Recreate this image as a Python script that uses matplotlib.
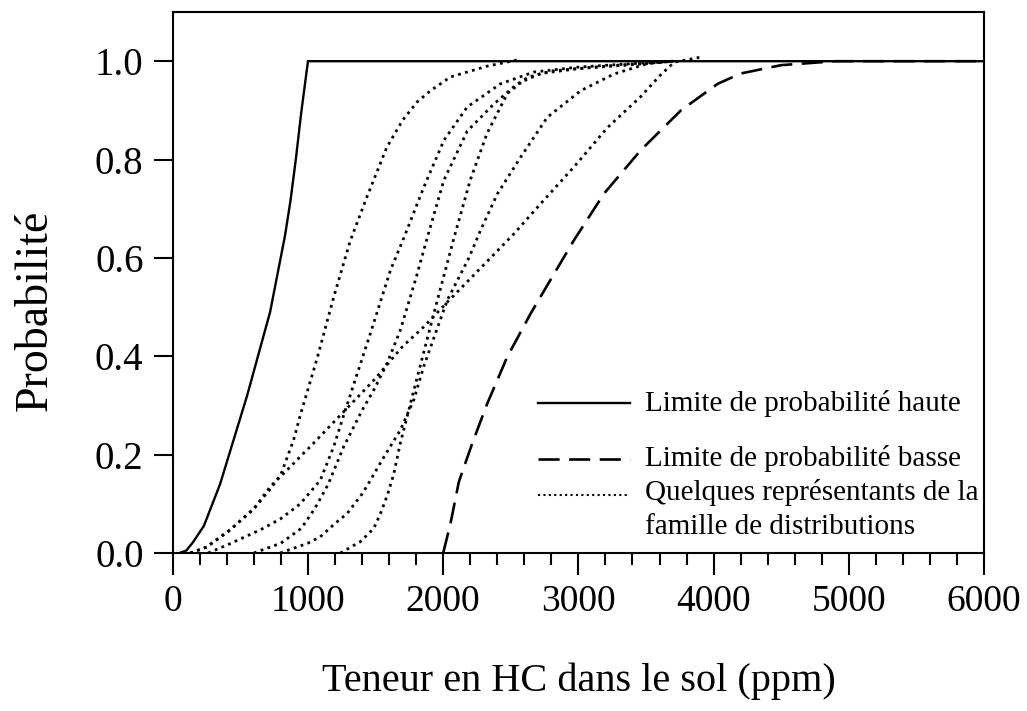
import matplotlib
matplotlib.use("Agg")
import matplotlib.pyplot as plt
from matplotlib.ticker import MultipleLocator

plt.rcParams['font.family'] = ['Liberation Serif', 'DejaVu Serif']

# Upper probability bound (solid)
haute_x = [50, 100, 150, 230, 350, 450, 550, 650, 720, 830, 870, 910, 950, 1000, 6000]
haute_y = [0.0, 0.005, 0.022, 0.055, 0.14, 0.23, 0.32, 0.42, 0.49, 0.645, 0.715, 0.80, 0.895, 1.0, 1.0]

# Lower probability bound (dashed)
basse_x = [2000, 2054, 2116, 2215, 2326, 2474, 2647, 2782, 2967, 3190, 3461, 3758, 4030, 4200, 4500, 4900, 6000]
basse_y = [0.0, 0.06, 0.145, 0.223, 0.304, 0.399, 0.487, 0.55, 0.636, 0.731, 0.819, 0.90, 0.954, 0.975, 0.992, 1.0, 1.0]

# Representatives of the distribution family (dotted)
famA_x = [130, 250, 424, 600, 721, 800, 894, 943, 1067, 1190, 1313, 1436, 1583, 1700, 1807, 1906, 2054, 2326, 2575]
famA_y = [0.0, 0.012, 0.047, 0.09, 0.13, 0.16, 0.23, 0.28, 0.395, 0.52, 0.635, 0.724, 0.825, 0.88, 0.917, 0.94, 0.968, 0.99, 1.004]

famB_x = [262, 400, 647, 800, 943, 1091, 1190, 1264, 1461, 1610, 1708, 1857, 2005, 2178, 2424, 2671, 3000, 3400, 3700]
famB_y = [0.0, 0.016, 0.047, 0.07, 0.10, 0.148, 0.216, 0.28, 0.446, 0.575, 0.64, 0.744, 0.839, 0.907, 0.954, 0.978, 0.988, 0.995, 1.0]

famC_x = [600, 800, 950, 1050, 1150, 1264, 1400, 1486, 1584, 1683, 1800, 1881, 2005, 2178, 2375, 2548, 2720, 3000, 3400, 3700]
famC_y = [0.0, 0.02, 0.05, 0.09, 0.14, 0.216, 0.29, 0.331, 0.385, 0.453, 0.56, 0.64, 0.758, 0.858, 0.913, 0.954, 0.975, 0.985, 0.993, 1.0]

famD_x = [795, 1000, 1091, 1200, 1289, 1400, 1462, 1550, 1683, 1782, 1857, 2030, 2190, 2276, 2400, 2573, 2770, 3017, 3264, 3510, 3700]
famD_y = [0.0, 0.02, 0.033, 0.06, 0.08, 0.12, 0.148, 0.19, 0.25, 0.311, 0.38, 0.514, 0.60, 0.656, 0.73, 0.805, 0.886, 0.94, 0.974, 0.995, 1.0]

famE_x = [1240, 1387, 1486, 1536, 1590, 1634, 1680, 1783, 1931, 2079, 2200, 2324, 2474, 2622, 2800, 3200, 3700]
famE_y = [0.0, 0.023, 0.05, 0.08, 0.12, 0.16, 0.22, 0.331, 0.487, 0.64, 0.758, 0.853, 0.934, 0.967, 0.98, 0.99, 1.0]

famF_x = [130, 250, 424, 600, 721, 850, 968, 1016, 1239, 1486, 1700, 1857, 2030, 2190, 2350, 2523, 2720, 2967, 3215, 3461, 3600, 3708, 3900]
famF_y = [0.0, 0.012, 0.047, 0.09, 0.135, 0.17, 0.203, 0.216, 0.28, 0.351, 0.42, 0.46, 0.51, 0.555, 0.60, 0.649, 0.71, 0.785, 0.865, 0.928, 0.97, 0.998, 1.008]

family = [(famA_x, famA_y), (famB_x, famB_y), (famC_x, famC_y),
          (famD_x, famD_y), (famE_x, famE_y), (famF_x, famF_y)]

xticks = [0, 1000, 2000, 3000, 4000, 5000, 6000]
yticks = [0.0, 0.2, 0.4, 0.6, 0.8, 1.0]

legend_labels = ["Limite de probabilité haute",
                 "Limite de probabilité basse",
                 "Quelques représentants de la",
                 "famille de distributions"]

fig = plt.figure(figsize=(10.27, 7.11), dpi=100)
ax = fig.add_axes([0.1682, 0.2222, 0.79, 0.7609])

dotted = (0, (1, 1.6))
dashed = (0, (8, 3.6))

ax.plot(haute_x, haute_y, color='black', lw=1.7, solid_joinstyle='miter')
ax.plot(basse_x, basse_y, color='black', lw=1.9, linestyle=dashed)
for fx, fy in family:
    ax.plot(fx, fy, color='black', lw=2.0, linestyle=dotted)

ax.set_xlim(0, 6000)
ax.set_ylim(0, 1.1)
ax.set_xticks(xticks)
ax.set_xticklabels([str(v) for v in xticks])
ax.set_yticks(yticks)
ax.set_yticklabels([f"{v:.1f}" for v in yticks])
ax.xaxis.set_minor_locator(MultipleLocator(200))

ax.tick_params(axis='x', which='major', direction='out', length=16, width=1.5,
               labelsize=27, pad=7)
ax.tick_params(axis='x', which='minor', direction='out', length=8.5, width=1.5)
ax.tick_params(axis='y', which='major', direction='out', length=14, width=1.5,
               labelsize=28, pad=7)
for s in ax.spines.values():
    s.set_linewidth(1.5)

ax.set_xlabel("Teneur en HC dans le sol (ppm)", fontsize=29, labelpad=31)
ax.set_ylabel("Probabilité", fontsize=33)
ax.yaxis.set_label_coords(-0.143, 0.449)

# Legend drawn manually
tr = ax.transAxes
ax.plot([0.450, 0.564], [0.277, 0.277], transform=tr, color='black', lw=1.7)
ax.plot([0.450, 0.564], [0.174, 0.174], transform=tr, color='black', lw=1.9, linestyle=dashed)
ax.plot([0.450, 0.564], [0.108, 0.108], transform=tr, color='black', lw=1.5, linestyle=dotted)
lfs = 21
ax.text(0.582, 0.277, legend_labels[0], transform=tr, fontsize=lfs, va='center', ha='left')
ax.text(0.582, 0.174, legend_labels[1], transform=tr, fontsize=lfs, va='center', ha='left')
ax.text(0.582, 0.111, legend_labels[2], transform=tr, fontsize=lfs, va='center', ha='left')
ax.text(0.582, 0.048, legend_labels[3], transform=tr, fontsize=lfs, va='center', ha='left')

fig.savefig("out.png", dpi=100)
